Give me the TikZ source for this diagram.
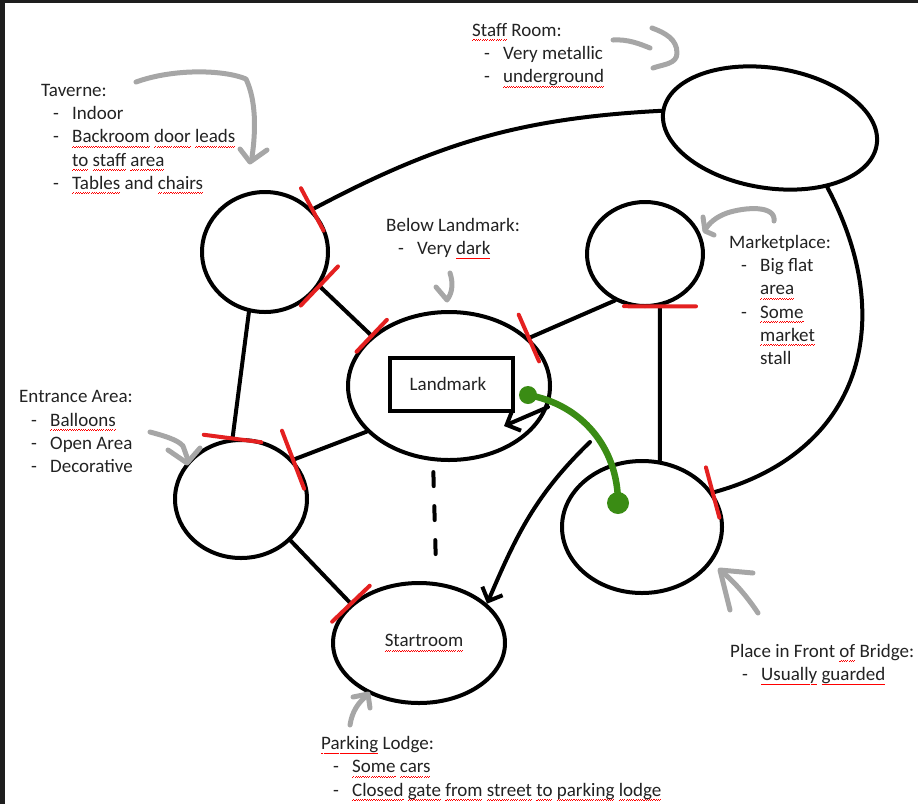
\documentclass[tikz,border=0pt]{standalone}
\usepackage{fontspec}
\setmainfont{Carlito}
\usetikzlibrary{shapes.geometric,arrows.meta}
\definecolor{GateClr}{RGB}{228,32,32}
\definecolor{HintClr}{RGB}{166,166,166}
\definecolor{VineClr}{RGB}{58,140,20}
\definecolor{FrameClr}{RGB}{30,30,30}
\definecolor{NoteClr}{RGB}{34,34,34}
\newbox\spellbox
\newcommand\spell[1]{\leavevmode\setbox\spellbox=\hbox{#1}%
  \rlap{\color{red}\hbox to\wd\spellbox{\xleaders\hbox{\rule[-4.6pt]{1.1pt}{0.8pt}\rule[-3.8pt]{1.1pt}{0.8pt}}\hfil}}%
  \box\spellbox}
\newcommand\itm{\strut\makebox[31pt][l]{\hspace{12pt}-}}
\newcommand\cnt{\strut\makebox[31pt]{}}

\tikzset{
  room/.style={ellipse, draw, line width=4pt, inner sep=0pt},
  link/.style={line width=4pt, line cap=round},
  redmark/.style={sloped, fill=GateClr, inner sep=0pt, minimum width=4pt,
    minimum height=#1, rounded corners=2pt},
  redmark/.default=52pt,
  hint/.style={HintClr, line width=5pt, line cap=round, line join=round},
  vine/.style={VineClr, line width=6.5pt, line cap=round},
  note/.style={anchor=north west, inner sep=0pt, align=left, text=NoteClr},
}

\begin{document}
\begin{tikzpicture}[x=1pt,y=1pt,font=\fontsize{19}{23.3}\selectfont,
  >={Straight Barb[length=11pt,width=22pt]}]
\useasboundingbox (0,0) rectangle (918,-804);
\fill[FrameClr] (0,0) rectangle (918,-3);
\fill[FrameClr] (0,0) rectangle (4.5,-804);

% rooms
\node[room, minimum width=126pt, minimum height=120pt] (tav) at (265,-252) {};
\node[room, minimum width=216pt, minimum height=120pt, rotate=-9] (staff) at (770,-128) {};
\node[room, minimum width=202pt, minimum height=148pt] (lm) at (449,-386) {};
\node[room, minimum width=116pt, minimum height=104pt] (market) at (645,-254) {};
\node[room, minimum width=132pt, minimum height=118pt] (entr) at (241,-499) {};
\node[room, minimum width=160pt, minimum height=132pt] (bridge) at (642,-527) {};
\node[room, minimum width=172pt, minimum height=120pt, text=NoteClr] (startrm) at (419,-643) {\hspace*{10pt}\spell{Startroom}};
\node[draw, line width=4pt, inner sep=0pt, minimum width=123pt, minimum height=53pt,
  text=NoteClr] (lmbox) at (451,-384) {Landmark\hspace*{6pt}};

% notes
\node[note] (staffnote) at (472,-19.7) {\strut\spell{Staff} Room:\\ \itm Very metallic\\ \itm \spell{underground}};
\node[note] (tavnote) at (41,-79.7) {\strut Taverne:\\ \itm Indoor\\
  \itm \spell{Backroom} \spell{door} \spell{leads}\\ \cnt\spell{to} \spell{staff} \spell{area}\\
  \itm \spell{Tables} and \spell{chairs}};
\node[note] (lmnote) at (386,-214.7) {\strut Below Landmark:\\ \itm Very \spell{dark}};
\node[note] (marketnote) at (729,-231.7) {\strut Marketplace:\\ \itm Big flat\\ \cnt\spell{area}\\
  \itm \spell{Some}\\ \cnt\spell{market}\\ \cnt stall};
\node[note] (entrnote) at (19,-386.4) {\strut Entrance Area:\\ \itm \spell{Balloons}\\ \itm Open Area\\ \itm Decorative};
\node[note] (bridgenote) at (730,-640.7) {\strut Place in Front \spell{of} Bridge:\\ \itm \spell{Usually} \spell{guarded}};
\node[note] (parknote) at (321,-733) {\strut\spell{Parking} Lodge:\\ \itm \spell{Some} \spell{cars}\\
  \itm \spell{Closed} \spell{gate} \spell{from} \spell{street} \spell{to} \spell{parking} \spell{lodge}};

% connectors
\draw[link] (tav.42) to[out=28,in=183] node[redmark,pos=0]{} (staff.west);
\draw[link] (tav.-32) -- node[redmark=58pt,pos=0]{} node[redmark=48pt,pos=1]{} (lm.147);
\draw[link] (tav.-105) -- node[redmark=62pt,pos=1]{} (entr.98);
\draw[link] (entr.37) -- node[redmark=66pt,pos=0]{} (lm.209);
\draw[link] (entr.-40) -- node[redmark=56pt,pos=1]{} (startrm.150);
\draw[link] (market.237) -- node[redmark=55pt,pos=1]{} (lm.31);
\draw[link] (market.-74) -- node[redmark=76pt,pos=0]{} (bridge.75);
\draw[link] (staff.-37) to[out=-62,in=15,looseness=1.2] node[redmark=56pt,pos=1]{} (bridge.26);
\draw[link, dash pattern=on 14pt off 20pt, shorten <=11pt, shorten >=26pt] (lm.-102) -- (startrm.74);

\coordinate (lmtip) at (504,-426);
\draw[link,->] (lm.-12) -- (lmtip);
\coordinate (fork) at (590,-442);
\draw[link,->] (fork) to[out=224,in=67] (startrm.30);

% grey hints
\draw[hint] (613,-40) .. controls (628,-39) and (640,-44) .. (650,-48);
\draw[hint] (652,-28) to[out=-20,in=90] (677,-53) to[out=-90,in=20] (653,-68);
\draw[hint] (136,-82) .. controls (175,-68) and (225,-70) .. (246,-79) .. controls (256,-100) and (256,-130) .. (252,-157);
\draw[hint] (240,-149) -- (250,-162) -- (267,-150);
\draw[hint] (436,-287) -- (447,-300) .. controls (453,-292) and (453,-282) .. (450,-273);
\draw[hint] (774,-221) .. controls (776,-205) and (745,-207) .. (727,-213) .. controls (716,-217) and (709,-223) .. (705,-230);
\draw[hint] (703,-217) -- (705,-231) -- (714,-235);
\draw[hint] (150,-432) .. controls (165,-436) and (178,-440) .. (183,-446) -- (188,-460);
\draw[hint] (168,-450) -- (187,-463) -- (200,-448);
\draw[hint] (350,-725) .. controls (352,-712) and (358,-702) .. (368,-695);
\draw[hint] (353,-697) -- (368,-694) -- (370,-708);
\draw[hint] (758,-613) .. controls (748,-598) and (735,-582) .. (721,-571);
\draw[hint] (753,-573) -- (720,-570) -- (730,-610);

% green
\coordinate (g1) at (528,-395);
\coordinate (g2) at (618,-503);
\draw[vine] (g1) to[out=-10,in=90] (g2);
\fill[VineClr] (g1) circle (9);
\fill[VineClr] (g2) circle (11);
\end{tikzpicture}
\end{document}
